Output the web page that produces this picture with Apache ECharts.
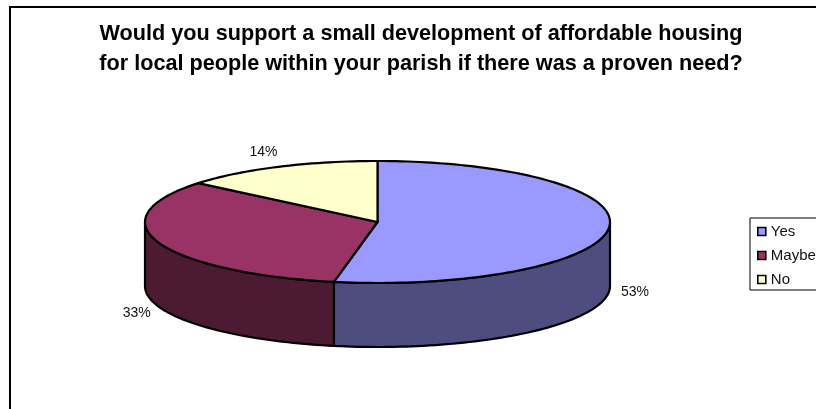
<!DOCTYPE html>
<html>
<head>
<meta charset="utf-8">
<style>html,body{margin:0;padding:0;background:#fff}#chart{width:816px;height:409px}</style>
<script src="https://cdn.jsdelivr.net/npm/echarts@6/dist/echarts.min.js"></script>
</head>
<body>
<div id="chart"></div>
<script>
const categories = ['Yes', 'Maybe', 'No'];
const percentages = [53, 33, 14];
const topColors = ['#9999FF', '#993366', '#FFFFCC'];
const sideColors = ['#4D4D80', '#4D1A33', '#808066'];
const labelOffsets = [[26, 0], [-22, 6], [-15, -15]];
const titleText = 'Would you support a small development of affordable housing\nfor local people within your parish if there was a proven need?';

// Tilted disc geometry
const CX = 377.5, CY = 222, RX = 232.5, RY = 61, DEPTH = 64;
const FONT = '"Liberation Sans", Arial, sans-serif';
const total = percentages.reduce((a, b) => a + b, 0);

// Point on the upper rim; turn 0 is twelve o'clock, running clockwise.
function rim(turn, drop) {
  const a = turn * 2 * Math.PI;
  return [CX + RX * Math.sin(a), CY - RY * Math.cos(a) + (drop || 0)];
}
function arc(from, to, drop) {
  const pts = [];
  const n = Math.max(2, Math.ceil((to - from) * 240));
  for (let i = 0; i <= n; i++) pts.push(rim(from + (to - from) * i / n, drop));
  return pts;
}

function sliceRenderer(index) {
  return function (params, api) {
    const start = api.value(0) / total;
    const end = start + api.value(1) / total;
    const mid = (start + end) / 2;
    const children = [];
    // The wall is only visible along the front half of the disc.
    const a = Math.max(start, 0.25), b = Math.min(end, 0.75);
    if (b > a) {
      children.push({
        type: 'polygon',
        shape: { points: arc(a, b, 0).concat(arc(a, b, DEPTH).reverse()) },
        style: { fill: sideColors[index], stroke: '#000', lineWidth: 2.2, lineJoin: 'round' }
      });
    }
    children.push({
      type: 'polygon',
      shape: { points: [[CX, CY]].concat(arc(start, end, 0)) },
      style: { fill: topColors[index], stroke: '#000', lineWidth: 2.2, lineJoin: 'round' }
    });
    const front = mid > 0.25 && mid < 0.75;
    const anchor = rim(mid, front ? DEPTH : 0);
    children.push({
      type: 'text',
      style: {
        x: anchor[0] + labelOffsets[index][0],
        y: anchor[1] + labelOffsets[index][1],
        text: api.value(1) + '%',
        fill: '#111',
        font: '14px ' + FONT,
        align: 'center',
        verticalAlign: 'middle'
      }
    });
    return { type: 'group', children };
  };
}

let running = 0;
const series = categories.map((name, i) => {
  const item = {
    type: 'custom',
    name,
    coordinateSystem: 'none',
    silent: true,
    animation: false,
    itemStyle: { color: topColors[i] },
    renderItem: sliceRenderer(i),
    data: [[running, percentages[i]]]
  };
  running += percentages[i];
  return item;
});

const chart = echarts.init(document.getElementById('chart'), null, { renderer: 'canvas' });
chart.setOption({
  animation: false,
  backgroundColor: '#fff',
  title: {
    text: titleText,
    left: 416,
    top: 14,
    textAlign: 'center',
    textStyle: { fontFamily: FONT, fontSize: 21.65, fontWeight: 'bold', color: '#000', lineHeight: 30 }
  },
  legend: {
    data: categories,
    orient: 'vertical',
    left: 750,
    top: 218,
    padding: [6, 40, 3, 7],
    itemWidth: 8,
    itemHeight: 8,
    itemGap: 9,
    icon: 'rect',
    selectedMode: false,
    backgroundColor: '#fff',
    borderColor: '#000',
    borderWidth: 1,
    itemStyle: { borderColor: '#000', borderWidth: 1.6 },
    textStyle: { fontFamily: FONT, fontSize: 15, color: '#111' }
  },
  graphic: [{
    type: 'polyline',
    silent: true,
    z: -1,
    shape: { points: [[10, 420], [10, 7], [830, 7]] },
    style: { fill: 'none', stroke: '#000', lineWidth: 2 }
  }],
  series
});
</script>
</body>
</html>
